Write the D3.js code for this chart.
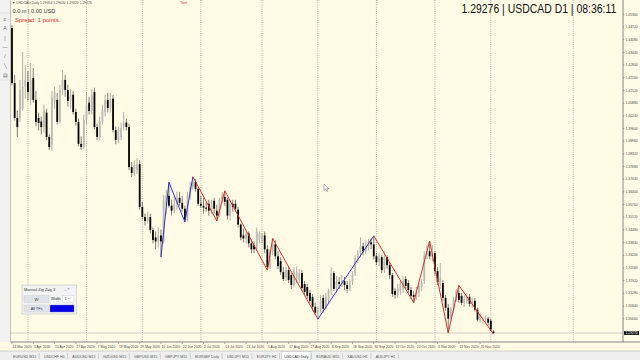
<!DOCTYPE html>
<html>
<head>
<meta charset="utf-8">
<script src="https://cdn.jsdelivr.net/npm/d3@7"></script>
<style>
  body { margin: 0; background: #fff; }
  svg text { font-family: 'Liberation Sans', Arial, sans-serif; }
</style>
</head>
<body>
<div id="chart"></div>
<script>
var symbolTitle = '1.29276 | USDCAD D1 | 08:36:11'
var headerText = '\u25BC USDCAD,Daily  1.29354 1.29420 1.29220 1.29276'
var bidPrice = 1.29276
var topTickPrice = 1.44720

// daily candles, 24 Mar 2020 .. 2 Dec 2020
var openPrices = [
  1.4467,1.4189,1.4013,1.4013,1.4060,1.4170,1.4194,1.4104,1.4215,1.4104,
  1.4013,1.3995,1.3967,1.4040,1.3917,1.3876,1.4094,1.4104,1.3995,1.4154,
  1.4205,1.4154,1.4099,1.4130,1.4043,1.3993,1.3882,1.3866,1.4003,1.4090,
  1.4048,1.4144,1.3967,1.3917,1.3997,1.4043,1.4104,1.4063,1.4110,1.3952,
  1.3902,1.3917,1.3967,1.3990,1.3967,1.3765,1.3735,1.3750,1.3780,1.3564,
  1.3513,1.3493,1.3513,1.3448,1.3410,1.3390,1.3420,1.3390,1.3570,1.3620,
  1.3570,1.3545,1.3580,1.3610,1.3585,1.3555,1.3500,1.3620,1.3665,1.3690,
  1.3655,1.3580,1.3570,1.3560,1.3580,1.3545,1.3595,1.3545,1.3520,1.3600,
  1.3615,1.3600,1.3520,1.3580,1.3580,1.3550,1.3475,1.3420,1.3405,1.3430,
  1.3380,1.3370,1.3350,1.3400,1.3400,1.3420,1.3350,1.3260,1.3340,1.3375,
  1.3315,1.3290,1.3235,1.3210,1.3245,1.3220,1.3170,1.3200,1.3195,1.3230,
  1.3175,1.3160,1.3130,1.3110,1.3060,1.3030,1.3045,1.3105,1.3050,1.3095,
  1.3140,1.3230,1.3150,1.3185,1.3175,1.3190,1.3170,1.3150,1.3185,1.3230,
  1.3305,1.3330,1.3365,1.3340,1.3365,1.3385,1.3375,1.3315,1.3285,1.3310,
  1.3245,1.3310,1.3270,1.3220,1.3140,1.3120,1.3140,1.3150,1.3200,1.3180,
  1.3145,1.3120,1.3110,1.3130,1.3160,1.3190,1.3320,1.3340,1.3315,1.3330,
  1.3240,1.3175,1.3180,1.3105,1.3055,1.3000,1.3045,1.3095,1.3130,1.3115,
  1.3080,1.3090,1.3110,1.3075,1.3090,1.3045,1.2995,1.2990,1.2995,1.3000,
  1.2990,1.29354]
var highPrices = [
  1.4482,1.4230,1.4050,1.4205,1.4346,1.4280,1.4250,1.4290,1.4265,1.4150,
  1.4040,1.4020,1.4080,1.4060,1.3930,1.4150,1.4170,1.4140,1.4180,1.4255,
  1.4230,1.4180,1.4160,1.4150,1.4060,1.4010,1.3920,1.4030,1.4144,1.4120,
  1.4160,1.4165,1.3985,1.4020,1.4080,1.4130,1.4140,1.4140,1.4130,1.3970,
  1.3970,1.3990,1.4043,1.4010,1.3985,1.3790,1.3800,1.3810,1.3800,1.3590,
  1.3530,1.3540,1.3530,1.3460,1.3440,1.3460,1.3450,1.3625,1.3650,1.3688,
  1.3600,1.3620,1.3640,1.3640,1.3620,1.3570,1.3640,1.3690,1.3716,1.3705,
  1.3665,1.3620,1.3610,1.3590,1.3600,1.3600,1.3610,1.3575,1.3610,1.3640,
  1.3645,1.3610,1.3600,1.3600,1.3600,1.3565,1.3480,1.3455,1.3440,1.3440,
  1.3400,1.3390,1.3460,1.3440,1.3430,1.3440,1.3370,1.3350,1.3405,1.3395,
  1.3340,1.3310,1.3260,1.3260,1.3260,1.3230,1.3260,1.3265,1.3250,1.3245,
  1.3190,1.3175,1.3145,1.3125,1.3080,1.3060,1.3120,1.3120,1.3130,1.3150,
  1.3260,1.3240,1.3215,1.3210,1.3220,1.3210,1.3190,1.3200,1.3240,1.3320,
  1.3345,1.3410,1.3385,1.3395,1.3400,1.3405,1.3418,1.3330,1.3330,1.3320,
  1.3340,1.3320,1.3285,1.3230,1.3155,1.3175,1.3190,1.3215,1.3215,1.3195,
  1.3160,1.3140,1.3160,1.3180,1.3200,1.3340,1.3375,1.3392,1.3370,1.3340,
  1.3260,1.3280,1.3195,1.3120,1.3075,1.3060,1.3110,1.3150,1.3168,1.3130,
  1.3120,1.3130,1.3125,1.3105,1.3105,1.3055,1.3030,1.3010,1.3015,1.3010,
  1.3000,1.29420]
var lowPrices = [
  1.4180,1.4000,1.3917,1.3993,1.4050,1.4110,1.4100,1.4080,1.4090,1.3970,
  1.3950,1.3930,1.3940,1.3900,1.3851,1.3850,1.4060,1.3980,1.3985,1.4130,
  1.4120,1.4070,1.4060,1.4030,1.3975,1.3870,1.3851,1.3855,1.3980,1.4030,
  1.4030,1.3955,1.3900,1.3900,1.3980,1.4020,1.4040,1.4040,1.3940,1.3880,
  1.3885,1.3900,1.3950,1.3950,1.3750,1.3715,1.3720,1.3730,1.3550,1.3500,
  1.3470,1.3480,1.3430,1.3380,1.3350,1.3360,1.3311,1.3380,1.3530,1.3560,
  1.3520,1.3530,1.3550,1.3570,1.3540,1.3488,1.3490,1.3600,1.3650,1.3640,
  1.3570,1.3560,1.3530,1.3540,1.3520,1.3530,1.3530,1.3493,1.3510,1.3580,
  1.3570,1.3500,1.3495,1.3540,1.3540,1.3460,1.3395,1.3385,1.3380,1.3360,
  1.3330,1.3330,1.3340,1.3380,1.3380,1.3330,1.3245,1.3250,1.3320,1.3300,
  1.3250,1.3220,1.3190,1.3190,1.3180,1.3150,1.3160,1.3180,1.3180,1.3140,
  1.3120,1.3100,1.3075,1.3040,1.3020,1.2998,1.3030,1.3030,1.3040,1.3080,
  1.3120,1.3140,1.3130,1.3150,1.3160,1.3145,1.3130,1.3140,1.3170,1.3215,
  1.3280,1.3310,1.3320,1.3325,1.3345,1.3350,1.3300,1.3270,1.3265,1.3230,
  1.3230,1.3250,1.3200,1.3110,1.3100,1.3105,1.3120,1.3130,1.3150,1.3130,
  1.3100,1.3081,1.3095,1.3110,1.3140,1.3175,1.3300,1.3300,1.3290,1.3220,
  1.3170,1.3150,1.3090,1.3040,1.2928,1.2990,1.3030,1.3085,1.3080,1.3070,
  1.3060,1.3075,1.3060,1.3055,1.3035,1.2985,1.2980,1.2970,1.2975,1.2965,
  1.2935,1.29220]
var closePrices = [
  1.4189,1.4013,1.3967,1.4154,1.4170,1.4205,1.4144,1.4205,1.4104,1.3993,
  1.3988,1.3967,1.4053,1.3917,1.3866,1.4114,1.4144,1.3993,1.4154,1.4205,
  1.4154,1.4099,1.4130,1.4043,1.3993,1.3882,1.3866,1.4003,1.4080,1.4048,
  1.4130,1.3967,1.3917,1.3997,1.4053,1.4104,1.4063,1.4110,1.3952,1.3902,
  1.3950,1.3962,1.3990,1.3967,1.3765,1.3735,1.3775,1.3780,1.3564,1.3513,
  1.3493,1.3513,1.3448,1.3397,1.3390,1.3420,1.3390,1.3600,1.3620,1.3570,
  1.3545,1.3580,1.3610,1.3585,1.3555,1.3500,1.3620,1.3665,1.3690,1.3655,
  1.3580,1.3570,1.3560,1.3555,1.3545,1.3575,1.3555,1.3520,1.3600,1.3615,
  1.3590,1.3520,1.3580,1.3565,1.3555,1.3475,1.3410,1.3405,1.3430,1.3380,
  1.3350,1.3350,1.3440,1.3430,1.3420,1.3350,1.3260,1.3340,1.3380,1.3315,
  1.3265,1.3235,1.3200,1.3245,1.3195,1.3170,1.3240,1.3235,1.3230,1.3155,
  1.3135,1.3115,1.3090,1.3060,1.3030,1.3045,1.3090,1.3050,1.3110,1.3140,
  1.3230,1.3150,1.3185,1.3175,1.3195,1.3170,1.3150,1.3185,1.3230,1.3305,
  1.3330,1.3365,1.3340,1.3370,1.3385,1.3375,1.3315,1.3285,1.3310,1.3245,
  1.3310,1.3270,1.3220,1.3125,1.3120,1.3150,1.3175,1.3190,1.3165,1.3145,
  1.3115,1.3110,1.3140,1.3165,1.3180,1.3320,1.3330,1.3315,1.3330,1.3240,
  1.3185,1.3205,1.3105,1.3055,1.3000,1.3050,1.3095,1.3140,1.3095,1.3080,
  1.3100,1.3110,1.3075,1.3090,1.3045,1.2995,1.3015,1.3000,1.3005,1.2980,
  1.2945,1.29276]

var dateLabels = ['24 Mar 2020','3 Apr 2020','15 Apr 2020','27 Apr 2020','7 May 2020','19 May 2020',
  '29 May 2020','10 Jun 2020','22 Jun 2020','2 Jul 2020','14 Jul 2020','24 Jul 2020','5 Aug 2020',
  '17 Aug 2020','27 Aug 2020','8 Sep 2020','18 Sep 2020','30 Sep 2020','12 Oct 2020','22 Oct 2020',
  '3 Nov 2020','13 Nov 2020','25 Nov 2020']

var priceTicks = [1.45360,1.44720,1.44080,1.43440,1.42800,1.42160,1.41520,1.40880,1.40240,
  1.39600,1.38960,1.38320,1.37680,1.37040,1.36400,1.35760,1.35120,1.34480,1.33840,1.33200,
  1.32560,1.31920,1.31280,1.30640,1.30000]

// manual zig zag points (bar index, price) and the colour of each leg
var zigzagBars = [56,59,65,68,77,80,96,98,115,136,151,157,164,168,181]
var zigzagPrices = [1.3311,1.3688,1.3488,1.3716,1.3493,1.3645,1.3245,1.3405,1.2998,1.3418,1.3081,1.3392,1.2928,1.3168,1.2922]
var zigzagColors = ['blue','blue','blue','red','red','red','red','red','blue','red','red','red','red','red']

var tabNames = ['EURUSD M15','USDCHF H4','AUDUSD M15','NZDUSD M15','GBPUSD M15','GBPJPY M15',
  'EURGBP Daily','USDJPY M15','EURJPY H1','USDCAD Daily','EURAUD M15','XAUUSD H1','AUDJPY H1']
var activeTab = 'USDCAD Daily'

var width, height;
var xScale, yScale, svg, barDates;
var chartLeft = 11, chartRight = 623, chartBottom = 342;
var lineColors = {blue: '#3333c4', red: '#c8322c'};

function GenerateGlobals() {
  width = 640;
  height = 360;

  barDates = d3.timeDay.range(new Date(2020, 2, 24), new Date(2020, 11, 3))
    .filter(function(d) { return d.getDay() != 0 && d.getDay() != 6; });

  xScale = d3.scaleLinear()
    .domain([0, barDates.length - 1])
    .range([12, 12 + 2.66 * (barDates.length - 1)]);

  yScale = d3.scaleLinear()
    .domain([bidPrice, topTickPrice])
    .range([333, 27]);

  svg = d3.select('#chart')
    .append('svg')
    .attr('width', width)
    .attr('height', height);
}

function DrawStatics() {
  svg.append('rect').attr('width', width).attr('height', height).attr('fill', '#fffbe4');

  // month separators (future month counted in calendar days)
  var gridBars = [];
  barDates.forEach(function(d, i) {
    if (i > 0 && d.getMonth() != barDates[i - 1].getMonth()) gridBars.push(i);
  });
  var last = barDates[barDates.length - 1];
  var nextMonth = d3.timeMonth.ceil(d3.timeDay.offset(last, 1));
  gridBars.push(barDates.length - 1 + d3.timeDay.count(last, nextMonth));

  svg.append('g').selectAll('line')
    .data(gridBars)
    .enter()
    .append('line')
    .attr('x1', function(d) { return xScale(d); })
    .attr('x2', function(d) { return xScale(d); })
    .attr('y1', 0)
    .attr('y2', chartBottom)
    .attr('stroke', '#8f8f8f')
    .attr('stroke-width', 0.7)
    .attr('stroke-dasharray', '1,1.2');

  // bid line
  svg.append('line')
    .attr('x1', chartLeft).attr('x2', chartRight)
    .attr('y1', yScale(bidPrice)).attr('y2', yScale(bidPrice))
    .attr('stroke', '#b4b4b4').attr('stroke-width', 0.6);

  // price axis
  svg.append('line')
    .attr('x1', chartRight).attr('x2', chartRight)
    .attr('y1', 0).attr('y2', chartBottom)
    .attr('stroke', '#6a6a6a').attr('stroke-width', 0.8);

  var pt = svg.append('g').selectAll('g')
    .data(priceTicks)
    .enter()
    .append('g')
    .attr('transform', function(d) { return 'translate(' + chartRight + ',' + yScale(d) + ')'; });
  pt.append('line').attr('x1', 0).attr('x2', 1.5).attr('stroke', '#6a6a6a').attr('stroke-width', 0.5);
  pt.append('text')
    .attr('x', 2.5).attr('y', 1.2)
    .attr('font-size', '3.4px').attr('fill', '#4a4a4a')
    .text(function(d) { return d3.format('.5f')(d); });

  svg.append('rect')
    .attr('x', chartRight + 1).attr('y', yScale(bidPrice) - 1.9)
    .attr('width', 15).attr('height', 3.8).attr('fill', '#111');
  svg.append('text')
    .attr('x', chartRight + 2.5).attr('y', yScale(bidPrice) + 1.2)
    .attr('font-size', '3.4px').attr('fill', '#fff')
    .text(d3.format('.5f')(bidPrice));

  // time axis
  svg.append('line')
    .attr('x1', chartLeft).attr('x2', width)
    .attr('y1', chartBottom).attr('y2', chartBottom)
    .attr('stroke', '#6a6a6a').attr('stroke-width', 0.8);

  var dt = svg.append('g').selectAll('g')
    .data(dateLabels)
    .enter()
    .append('g')
    .attr('transform', function(d, i) { return 'translate(' + xScale(i * 8) + ',' + chartBottom + ')'; });
  dt.append('line').attr('y1', 0).attr('y2', 2).attr('stroke', '#6a6a6a').attr('stroke-width', 0.5);
  dt.append('text')
    .attr('x', 0.5).attr('y', 6.2)
    .attr('font-size', '3.4px').attr('fill', '#4a4a4a')
    .text(function(d) { return d; });

  // left toolbar
  svg.append('rect').attr('x', 0).attr('y', 0).attr('width', chartLeft - 1).attr('height', chartBottom).attr('fill', '#f2f2f0');
  svg.append('line').attr('x1', chartLeft - 0.5).attr('x2', chartLeft - 0.5).attr('y1', 0).attr('y2', chartBottom)
    .attr('stroke', '#9a9a9a').attr('stroke-width', 0.6);
  svg.append('line').attr('x1', 0).attr('x2', chartLeft - 1).attr('y1', 13).attr('y2', 13).attr('stroke', '#c8c8c8').attr('stroke-width', 0.5);
  svg.append('line').attr('x1', 0).attr('x2', chartLeft - 1).attr('y1', 80).attr('y2', 80).attr('stroke', '#c8c8c8').attr('stroke-width', 0.5);
  var toolGlyphs = ['\u2261', 'A', '|', '\u2014', '/', '\u2572', '\u25A4'];
  svg.append('g').selectAll('text')
    .data(toolGlyphs)
    .enter()
    .append('text')
    .attr('x', 5)
    .attr('y', function(d, i) { return 21 + i * 9.3; })
    .attr('text-anchor', 'middle')
    .attr('font-size', '5px')
    .attr('fill', '#6a6a6a')
    .text(function(d) { return d; });
}

function DrawCandles() {
  var bars = closePrices.map(function(c, i) {
    return {i: i, o: openPrices[i], h: highPrices[i], l: lowPrices[i], c: c};
  });
  var g = svg.append('g').attr('id', 'candles');

  g.selectAll('.wick')
    .data(bars)
    .enter()
    .append('line')
    .attr('class', 'wick')
    .attr('x1', function(d) { return xScale(d.i); })
    .attr('x2', function(d) { return xScale(d.i); })
    .attr('y1', function(d) { return yScale(d.h); })
    .attr('y2', function(d) { return yScale(d.l); })
    .attr('stroke', function(d) { return d.c >= d.o ? '#7a7a7a' : '#2a2a2a'; })
    .attr('stroke-width', 0.6);

  g.selectAll('.body')
    .data(bars)
    .enter()
    .append('rect')
    .attr('class', 'body')
    .attr('x', function(d) { return xScale(d.i) - 0.9; })
    .attr('width', 1.8)
    .attr('y', function(d) { return yScale(Math.max(d.o, d.c)); })
    .attr('height', function(d) { return Math.max(0.7, Math.abs(yScale(d.o) - yScale(d.c))); })
    .attr('fill', function(d) { return d.c >= d.o ? '#bcbcb6' : '#050505'; });
}

function DrawZigzag() {
  var pts = zigzagBars.map(function(b, i) { return [xScale(b), yScale(zigzagPrices[i])]; });
  svg.append('g').selectAll('line')
    .data(d3.pairs(pts))
    .enter()
    .append('line')
    .attr('x1', function(d) { return d[0][0]; })
    .attr('y1', function(d) { return d[0][1]; })
    .attr('x2', function(d) { return d[1][0]; })
    .attr('y2', function(d) { return d[1][1]; })
    .attr('stroke', function(d, i) { return lineColors[zigzagColors[i]]; })
    .attr('stroke-width', 1);
}

function DrawTexts() {
  svg.append('text').attr('x', 12).attr('y', 4.3).attr('font-size', '3.4px').attr('fill', '#4a4a4a').text(headerText);
  svg.append('text').attr('x', 180).attr('y', 4.3).attr('font-size', '3.8px').attr('fill', '#e03c3c').text('Text');
  svg.append('text').attr('x', 12.5).attr('y', 13).attr('font-size', '5.6px').attr('fill', '#333').text('0.0 m | 0.00 USD');
  svg.append('text').attr('x', 15).attr('y', 21.8).attr('font-size', '6px').attr('fill', '#e02a2a').text('Spread: 1 points.');

  // big symbol line, squeezed horizontally like the terminal font
  svg.append('text')
    .attr('transform', 'translate(461.5,12.8) scale(0.87,1)')
    .attr('font-size', '12px').attr('fill', '#111')
    .text(symbolTitle);

  // mouse pointer
  svg.append('path')
    .attr('transform', 'translate(324,184)')
    .attr('d', 'M0,0 L0,6.5 L1.6,5 L2.9,7.6 L3.9,7.1 L2.7,4.6 L4.8,4.6 Z')
    .attr('fill', '#fff').attr('stroke', '#444').attr('stroke-width', 0.4);
}

function DrawPanel() {
  var p = svg.append('g').attr('transform', 'translate(22,285)');
  p.append('rect').attr('width', 54.5).attr('height', 29).attr('fill', '#f3f3f3').attr('stroke', '#b9b9b9').attr('stroke-width', 0.5);
  p.append('text').attr('x', 2).attr('y', 5.6).attr('font-size', '4px').attr('fill', '#333').text('Manual Zig Zag 3');
  p.append('text').attr('x', 42).attr('y', 5.4).attr('font-size', '4px').attr('fill', '#555').text('_  \u00D7');
  p.append('rect').attr('x', 2).attr('y', 10.5).attr('width', 25).attr('height', 7).attr('fill', '#dfe4ea').attr('stroke', '#c4c9cf').attr('stroke-width', 0.4);
  p.append('text').attr('x', 14.5).attr('y', 15.6).attr('text-anchor', 'middle').attr('font-size', '4.2px').attr('fill', '#333').text('W');
  p.append('text').attr('x', 29).attr('y', 15.4).attr('font-size', '3.8px').attr('fill', '#333').text('Width');
  p.append('rect').attr('x', 40.5).attr('y', 10.5).attr('width', 11).attr('height', 7).attr('fill', '#fff').attr('stroke', '#c4c9cf').attr('stroke-width', 0.4);
  p.append('text').attr('x', 42.5).attr('y', 15.4).attr('font-size', '3.8px').attr('fill', '#333').text('1 \u00F7');
  p.append('rect').attr('x', 2).attr('y', 20).attr('width', 25).attr('height', 7).attr('fill', '#dfe4ea').attr('stroke', '#c4c9cf').attr('stroke-width', 0.4);
  p.append('text').attr('x', 14.5).attr('y', 25).attr('text-anchor', 'middle').attr('font-size', '3.8px').attr('fill', '#333').text('All TFs');
  p.append('rect').attr('x', 28).attr('y', 20).attr('width', 24).attr('height', 7).attr('fill', '#0000e6').attr('stroke', '#8890a0').attr('stroke-width', 0.4);
}

function DrawTabs() {
  svg.append('rect').attr('x', 0).attr('y', 351).attr('width', width).attr('height', 9).attr('fill', '#efefef');
  svg.append('line').attr('x1', 0).attr('x2', width).attr('y1', 351).attr('y2', 351).attr('stroke', '#a8a8a8').attr('stroke-width', 0.5);

  var tabs = svg.append('g');
  var x = 12;
  tabNames.forEach(function(name) {
    var t = tabs.append('text')
      .attr('y', 357.6)
      .attr('font-size', '3.6px')
      .attr('fill', '#555')
      .text(name);
    var w = t.node().getComputedTextLength();
    if (name == activeTab) {
      tabs.insert('rect', 'text').attr('x', x - 1.5).attr('y', 351.5).attr('width', w + 5).attr('height', 8.5)
        .attr('fill', '#fff').attr('stroke', '#a8a8a8').attr('stroke-width', 0.4);
      t.attr('fill', '#222');
    }
    t.attr('x', x + 1);
    tabs.append('line').attr('x1', x + w + 4).attr('x2', x + w + 4).attr('y1', 353).attr('y2', 359)
      .attr('stroke', '#a0a0a0').attr('stroke-width', 0.4);
    x += w + 7.8;
  });
}

function DrawChart() {
  GenerateGlobals();
  DrawStatics();
  DrawCandles();
  DrawZigzag();
  DrawTexts();
  DrawPanel();
  DrawTabs();
}

DrawChart();
</script>
</body>
</html>
